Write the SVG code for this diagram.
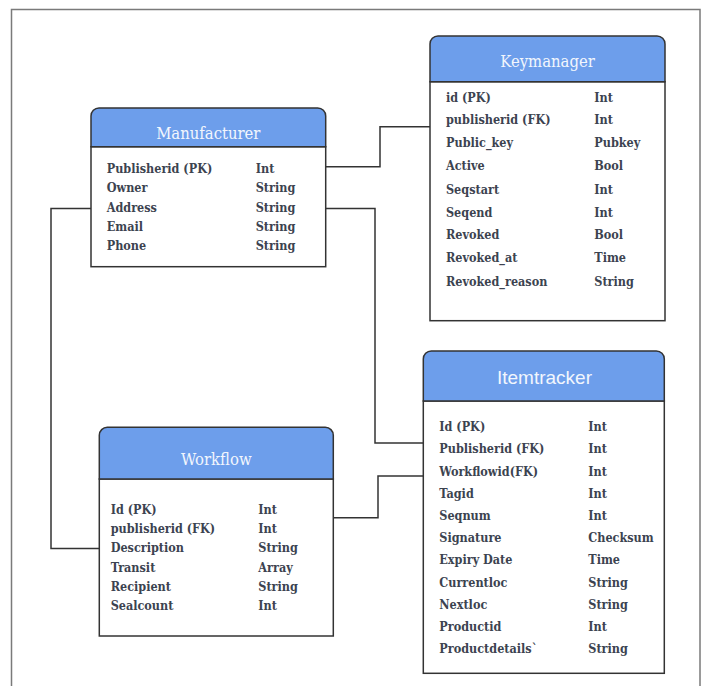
<svg xmlns="http://www.w3.org/2000/svg" width="704" height="686" viewBox="0 0 704 686">
<style>
.frame{fill:#fff;stroke:#7a7a7a;stroke-width:1.5}
.hdr{fill:#6d9eeb;stroke:#333;stroke-width:1.5}
.body{fill:#fff;stroke:#333;stroke-width:1.5}
.ttl{font-family:'DejaVu Serif Condensed','DejaVu Serif',serif;font-stretch:condensed;font-size:16.5px;fill:#f2f6fd;text-anchor:middle}
.ttls{font-family:'Liberation Sans',Arial,sans-serif;font-size:19px;fill:#f2f6fd;text-anchor:middle}
.row{font-family:'DejaVu Serif Condensed','DejaVu Serif',serif;font-stretch:condensed;font-size:12.5px;font-weight:bold;fill:#3c4350}
.conn{fill:none;stroke:#333;stroke-width:1.5}
</style>
<rect x="0" y="0" width="704" height="686" fill="#fff"/>
<rect class="frame" x="11.5" y="9.5" width="688.5" height="690"/>

<g id="connectors">
<polyline class="conn" points="326,166.7 380,166.7 380,126.7 436,126.7"/>
<polyline class="conn" points="96,208.5 51,208.5 51,548.5 103,548.5"/>
<polyline class="conn" points="320,208.5 375,208.5 375,443 428,443"/>
<polyline class="conn" points="329,517.7 378,517.7 378,476 428,476"/>
</g>

<g id="manufacturer">
<rect class="body" x="91" y="146.7" width="234.7" height="120"/>
<path class="hdr" d="M91,146.7 V116 a8,8 0 0 1 8,-8 H317.7 a8,8 0 0 1 8,8 V146.7 Z"/>
<text class="ttl" x="208.3" y="139">Manufacturer</text>
<g class="row">
<text x="106.7" y="172.7">Publisherid (PK)</text><text x="255.7" y="172.7">Int</text>
<text x="106.7" y="191.7">Owner</text><text x="255.7" y="191.7">String</text>
<text x="106.7" y="211.7">Address</text><text x="255.7" y="211.7">String</text>
<text x="106.7" y="230.7">Email</text><text x="255.7" y="230.7">String</text>
<text x="106.7" y="250">Phone</text><text x="255.7" y="250">String</text>
</g>
</g>

<g id="keymanager">
<rect class="body" x="430" y="81.7" width="235" height="239"/>
<path class="hdr" d="M430,81.7 V44 a8,8 0 0 1 8,-8 H657 a8,8 0 0 1 8,8 V81.7 Z"/>
<text class="ttl" x="547.5" y="66.7">Keymanager</text>
<g class="row">
<text x="446" y="101.7">id (PK)</text><text x="594.3" y="101.7">Int</text>
<text x="446" y="124.3">publisherid (FK)</text><text x="594.3" y="124.3">Int</text>
<text x="446" y="147.3">Public_key</text><text x="594.3" y="147.3">Pubkey</text>
<text x="446" y="170">Active</text><text x="594.3" y="170">Bool</text>
<text x="446" y="193.5">Seqstart</text><text x="594.3" y="193.5">Int</text>
<text x="446" y="216.5">Seqend</text><text x="594.3" y="216.5">Int</text>
<text x="446" y="239.3">Revoked</text><text x="594.3" y="239.3">Bool</text>
<text x="446" y="262.3">Revoked_at</text><text x="594.3" y="262.3">Time</text>
<text x="446" y="286">Revoked_reason</text><text x="594.3" y="286">String</text>
</g>
</g>

<g id="workflow">
<rect class="body" x="99.3" y="479" width="234" height="157"/>
<path class="hdr" d="M99.3,479 V435.3 a8,8 0 0 1 8,-8 H325.3 a8,8 0 0 1 8,8 V479 Z"/>
<text class="ttl" x="216.3" y="465">Workflow</text>
<g class="row">
<text x="110.7" y="514">Id (PK)</text><text x="258.3" y="514">Int</text>
<text x="110.7" y="533.3">publisherid (FK)</text><text x="258.3" y="533.3">Int</text>
<text x="110.7" y="552.3">Description</text><text x="258.3" y="552.3">String</text>
<text x="110.7" y="571.5">Transit</text><text x="258.3" y="571.5">Array</text>
<text x="110.7" y="590.7">Recipient</text><text x="258.3" y="590.7">String</text>
<text x="110.7" y="609.5">Sealcount</text><text x="258.3" y="609.5">Int</text>
</g>
</g>

<g id="itemtracker">
<rect class="body" x="423.3" y="401" width="241" height="272.3"/>
<path class="hdr" d="M423.3,401 V359 a8,8 0 0 1 8,-8 H656.3 a8,8 0 0 1 8,8 V401 Z"/>
<text class="ttls" x="544.5" y="384.3">Itemtracker</text>
<g class="row">
<text x="439.3" y="431">Id (PK)</text><text x="588.3" y="431">Int</text>
<text x="439.3" y="453.3">Publisherid (FK)</text><text x="588.3" y="453.3">Int</text>
<text x="439.3" y="475.7">Workflowid(FK)</text><text x="588.3" y="475.7">Int</text>
<text x="439.3" y="497.7">Tagid</text><text x="588.3" y="497.7">Int</text>
<text x="439.3" y="520">Seqnum</text><text x="588.3" y="520">Int</text>
<text x="439.3" y="542.3">Signature</text><text x="588.3" y="542.3">Checksum</text>
<text x="439.3" y="564.3">Expiry Date</text><text x="588.3" y="564.3">Time</text>
<text x="439.3" y="586.7">Currentloc</text><text x="588.3" y="586.7">String</text>
<text x="439.3" y="609">Nextloc</text><text x="588.3" y="609">String</text>
<text x="439.3" y="631">Productid</text><text x="588.3" y="631">Int</text>
<text x="439.3" y="653.3">Productdetails`</text><text x="588.3" y="653.3">String</text>
</g>
</g>
</svg>
